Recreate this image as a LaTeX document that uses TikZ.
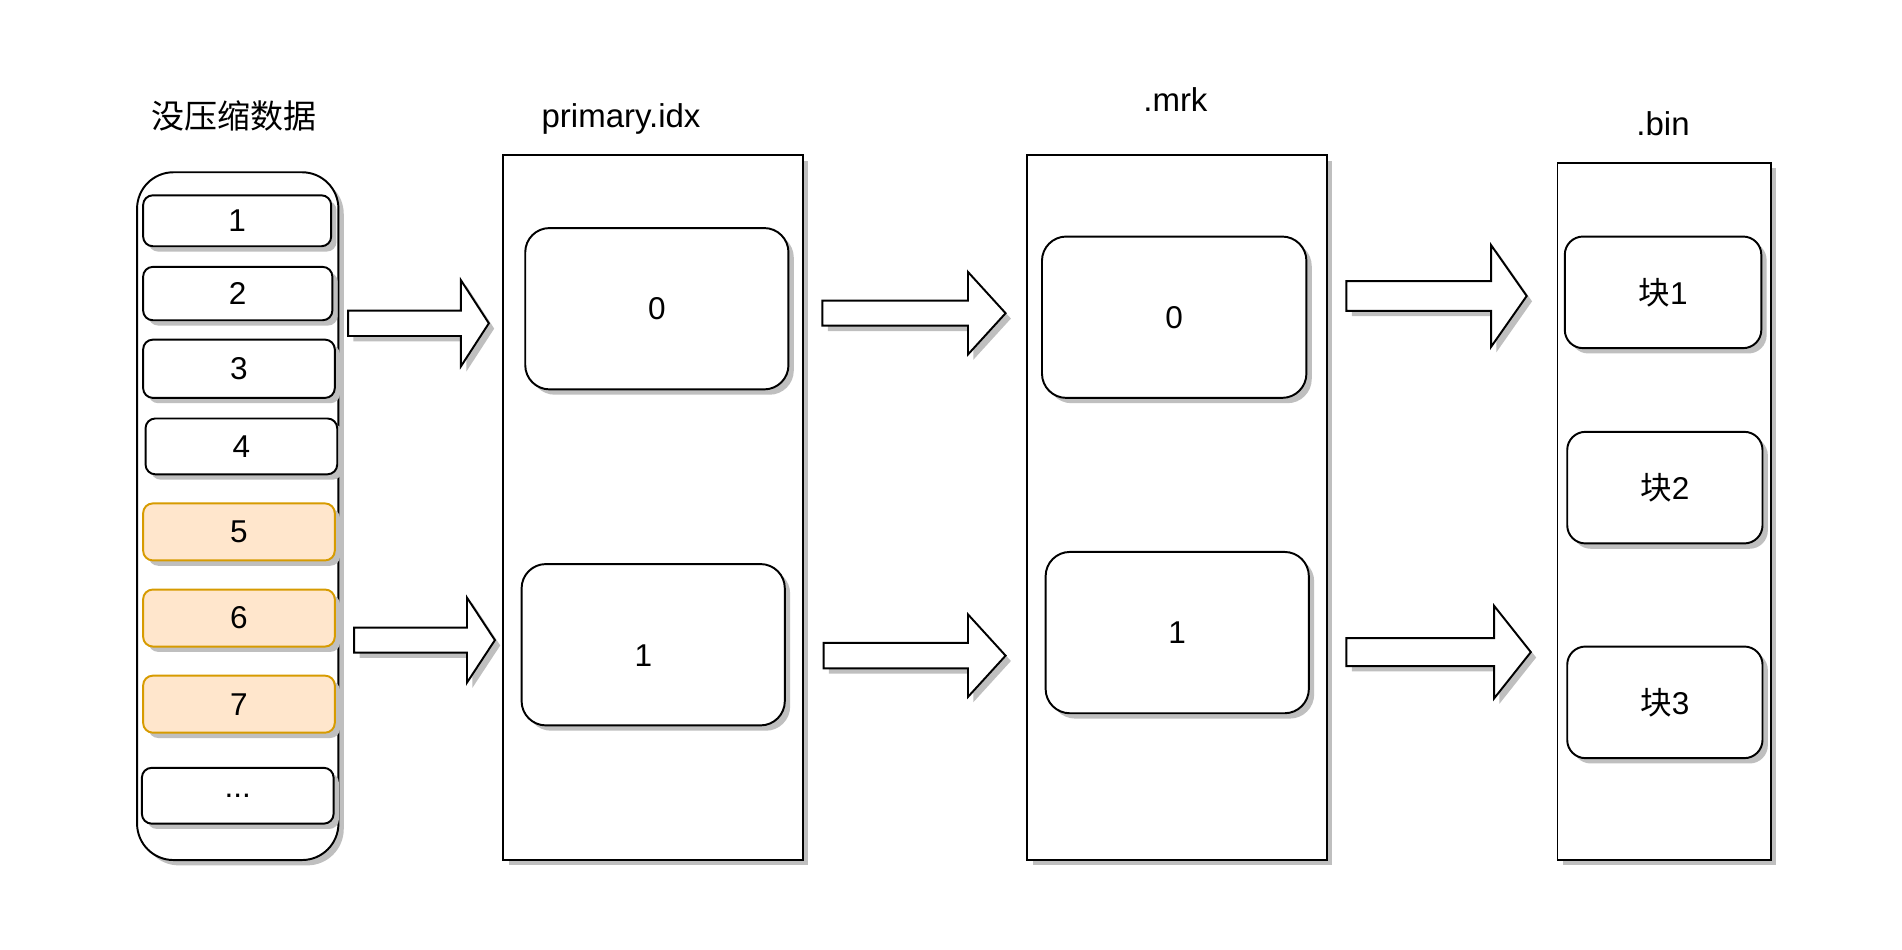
\documentclass[tikz,border=0pt]{standalone}
\usepackage{fontspec}
\setmainfont{Liberation Sans}
\newfontfamily\cjk{Noto Sans CJK SC}
\usetikzlibrary{calc,fit,shadows}

\definecolor{hotfill}{HTML}{FFE6CC}
\definecolor{hotline}{HTML}{D79B00}

\tikzset{
  box/.style={draw, fill=white, line width=0.8pt, inner sep=0pt,
    drop shadow={shadow xshift=2.2pt, shadow yshift=-2.2pt, fill=black!25, opacity=1}},
  cell/.style={box, rounded corners=4pt, label={[font=\fontsize{13}{15}\selectfont]center:#1}},
  hot/.style={cell=#1, draw=hotline, fill=hotfill},
  part/.style={box, rounded corners=10pt, label={[font=\fontsize{13}{15}\selectfont]center:#1}},
  blk/.style={box, rounded corners=7.5pt, label={[font=\fontsize{13}{15}\selectfont]center:{\cjk 块}#1}},
  title/.style={anchor=base, font=\fontsize{13.6}{16}\selectfont},
  fat/.style={draw, fill=white, line width=0.8pt, line join=miter,
    drop shadow={shadow xshift=2.2pt, shadow yshift=-2.2pt, fill=black!25, opacity=1}}
}

% tail, tip, half shaft, half head, head length
\newcommand{\blockarrow}[5]{%
  \draw[fat] ($(#1)+(0,-#3)$) -- ($(#2)+(-#5,-#3)$) -- ($(#2)+(-#5,-#4)$) -- (#2)
    -- ($(#2)+(-#5,#4)$) -- ($(#2)+(-#5,#3)$) -- ($(#1)+(0,#3)$) -- cycle;}

\begin{document}
\begin{tikzpicture}[x=0.5pt, y=-0.5pt]
    \useasboundingbox (0,0) rectangle (1568,783);

    % uncompressed data
    \node[title] (rawtitle) at (193,106) {\cjk 没压缩数据};
    \node[box, rounded corners=15pt, fit={(113,142) (279,709)}] (raw) {};
    \node[cell=1, fit={(118,161) (273,203)}] (d1) {};
    \node[cell=2, fit={(118,220) (274,264)}] (d2) {};
    \node[cell=3, fit={(118,280) (276,328)}] (d3) {};
    \node[cell=4, fit={(120,345) (278,391)}] (d4) {};
    \node[hot=5, fit={(118,415) (276,462)}] (d5) {};
    \node[hot=6, fit={(118,486) (276,533)}] (d6) {};
    \node[hot=7, fit={(118,557) (276,604)}] (d7) {};
    \node[cell=..., fit={(117,633) (275,679)}] (dn) {};

    % primary.idx
    \node[title] (idxtitle) at (512,105) {primary.idx};
    \node[box, fit={(415,128) (662,709)}] (idx) {};
    \node[part=0, fit={(433,188) (650,321)}] (idx0) {};
    \node[box, rounded corners=10pt, fit={(430,465) (647,598)},
          label={[shift={(-8,9)}, font=\fontsize{13}{15}\selectfont]center:1}] (idx1) {};

    % .mrk
    \node[title] (mrktitle) at (969,92) {.mrk};
    \node[box, fit={(847,128) (1094,709)}] (mrk) {};
    \node[part=0, fit={(859,195) (1077,328)}] (mrk0) {};
    \node[part=1, fit={(862,455) (1079,588)}] (mrk1) {};

    % .bin
    \node[title] (bintitle) at (1371,112) {.bin};
    \node[box, fit={(1284,134) (1460,709)}] (bin) {};
    \node[blk=1, fit={(1290,195) (1452,287)}] (b1) {};
    \node[blk=2, fit={(1292,356) (1453,448)}] (b2) {};
    \node[blk=3, fit={(1292,533) (1453,625)}] (b3) {};

    % arrows
    \coordinate (a1s) at (287,266.5);  \coordinate (a1e) at (403,266.5);
    \coordinate (a2s) at (292,527.7);  \coordinate (a2e) at (408,527.7);
    \coordinate (a3s) at (678,258.2);  \coordinate (a3e) at (829,258.2);
    \coordinate (a4s) at (679,540.5);  \coordinate (a4e) at (829,540.5);
    \coordinate (a5s) at (1110,244);   \coordinate (a5e) at (1258.6,244);
    \coordinate (a6s) at (1110,537.6); \coordinate (a6e) at (1262,537.6);
    \blockarrow{a1s}{a1e}{10.5}{35.5}{23}
    \blockarrow{a2s}{a2e}{10.3}{35}{23}
    \blockarrow{a3s}{a3e}{10.3}{34}{31}
    \blockarrow{a4s}{a4e}{10.5}{34}{31}
    \blockarrow{a5s}{a5e}{12.2}{42}{29.4}
    \blockarrow{a6s}{a6e}{11.5}{38.2}{30.3}
\end{tikzpicture}
\end{document}
